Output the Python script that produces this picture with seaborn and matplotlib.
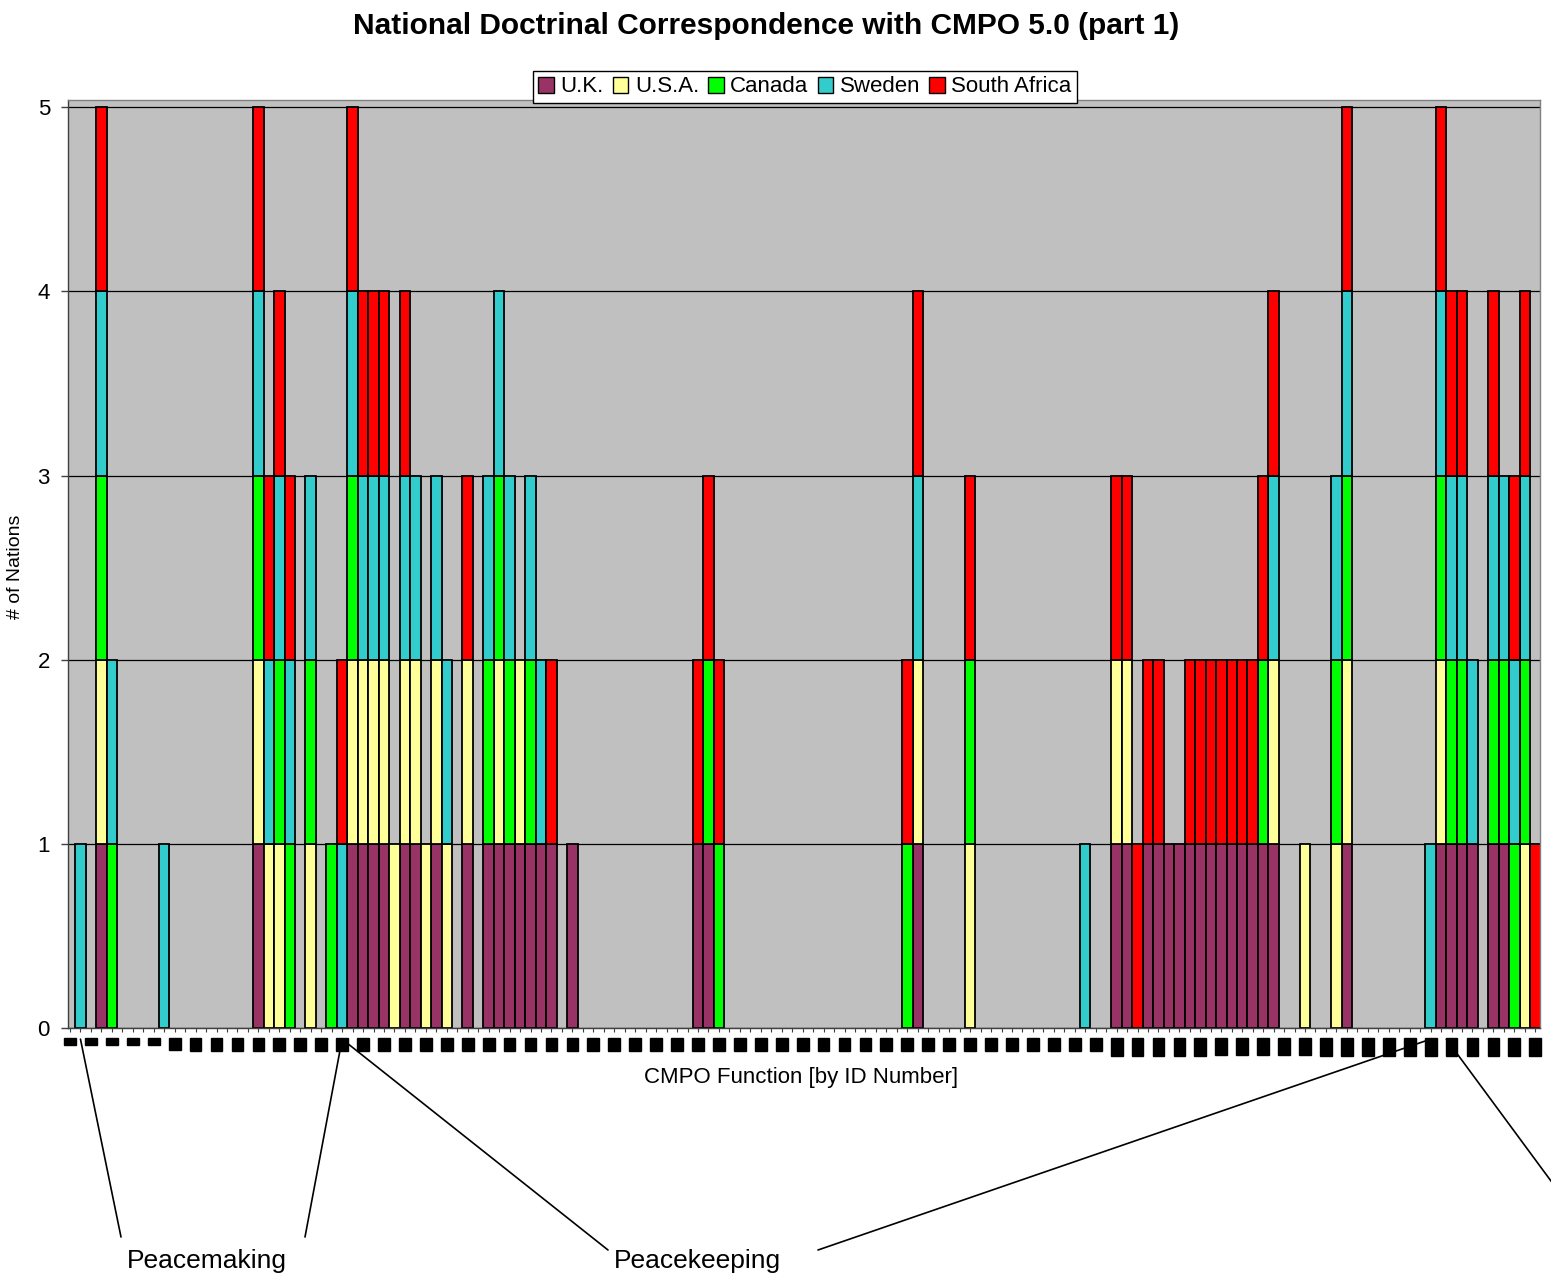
import numpy as np
import seaborn as sns
import matplotlib.pyplot as plt
from matplotlib.patches import Patch

# CMPO function IDs on the x axis
ids = list(range(1, 142))

countries = ['U.K.', 'U.S.A.', 'Canada', 'Sweden', 'South Africa']
colors = ['#993366', '#FFFF99', '#00FF00', '#33CCCC', '#FF0000']

# IDs where each nation's doctrine corresponds to the CMPO function
uk_ids = [4, 19, 28, 29, 30, 31, 33, 34, 36, 39, 41, 42, 43, 44, 45, 46, 47, 49,
          61, 62, 82, 101, 102, 104, 105, 106, 107, 108, 109, 110, 111, 112, 113,
          114, 115, 116, 123, 132, 133, 134, 135, 137, 138]
usa_ids = [4, 19, 20, 21, 24, 28, 29, 30, 31, 32, 33, 34, 35, 36, 37, 39, 42, 44,
           82, 87, 101, 102, 116, 119, 122, 123, 132, 140]
canada_ids = [4, 5, 19, 21, 22, 24, 26, 28, 41, 42, 43, 45, 62, 63, 81, 87, 115,
              122, 123, 132, 133, 134, 137, 138, 139, 140]
sweden_ids = [2, 4, 5, 10, 19, 20, 21, 22, 24, 27, 28, 29, 30, 31, 33, 34, 36, 37,
              41, 42, 43, 45, 46, 82, 98, 116, 122, 123, 131, 132, 133, 134, 135,
              137, 138, 139, 140]
safrica_ids = [4, 19, 20, 21, 22, 27, 28, 29, 30, 31, 33, 39, 47, 61, 62, 63, 81,
               82, 87, 101, 102, 103, 104, 105, 108, 109, 110, 111, 112, 113, 114,
               115, 116, 123, 132, 133, 134, 137, 139, 140, 141]

tick_ids = ids[::2]


def main():
    sns.set_style('white')
    plt.rcParams['font.family'] = ['Liberation Sans', 'DejaVu Sans']
    plt.rcParams['text.color'] = 'black'
    plt.rcParams['axes.labelcolor'] = 'black'
    plt.rcParams['xtick.color'] = 'black'
    plt.rcParams['ytick.color'] = 'black'

    fig = plt.figure(figsize=(15.51, 12.78), dpi=100)
    ax = fig.add_axes([68 / 1551, 1 - 1028 / 1278, 1472 / 1551, 928 / 1278])
    ax.set_facecolor('#C0C0C0')

    bottom = np.zeros(len(ids))
    for hits, col in zip([uk_ids, usa_ids, canada_ids, sweden_ids, safrica_ids], colors):
        vals = np.array([1 if i in hits else 0 for i in ids])
        sns.barplot(x=ids, y=vals, bottom=bottom, color=col, saturation=1,
                    width=1.0, edgecolor='black', linewidth=1.3,
                    errorbar=None, ax=ax)
        bottom = bottom + vals

    # excel draws nothing for zero values
    for p in ax.patches:
        if p.get_height() == 0:
            p.set_visible(False)

    ax.set_xlim(-0.19, 140.45)
    ax.set_ylim(0, 5.04)
    ax.set_yticks(range(0, 6))
    ax.yaxis.grid(True, color='black', lw=0.9)
    ax.set_axisbelow(True)
    ax.set_xlabel('')
    ax.set_ylabel('')

    for s in ax.spines.values():
        s.set_color('#808080')
        s.set_linewidth(1.0)
    ax.spines['left'].set_color('#404040')
    ax.spines['bottom'].set_color('#404040')

    ax.tick_params(axis='y', length=5, width=1, pad=8, labelsize=16,
                   left=True, color='#404040', labelcolor='black')
    ax.set_xticks(range(0, 141, 2))
    ax.set_xticklabels([str(i) for i in tick_ids], rotation=90, fontsize=7,
                       family='Liberation Sans', color='black')
    ax.set_xticks(np.arange(0, 141), minor=True)
    ax.tick_params(axis='x', which='both', length=3, width=0.8, bottom=True,
                   color='#404040')
    ax.tick_params(axis='x', which='major', pad=5)
    for lbl in ax.get_xticklabels():
        lbl.set_bbox(dict(facecolor='black', edgecolor='black', pad=0.6))

    handles = [Patch(facecolor=c, edgecolor='black', label=n)
               for n, c in zip(countries, colors)]
    ax.legend(handles=handles, loc='center', ncol=5, fontsize=16,
              bbox_to_anchor=(805 / 1551, 1 - 87 / 1278),
              bbox_transform=fig.transFigure, frameon=True, fancybox=False,
              edgecolor='black', framealpha=1, handlelength=0.7,
              handleheight=0.7, handletextpad=0.3, columnspacing=0.4,
              borderpad=0.25, borderaxespad=0)

    fig.text(766 / 1551, 1 - 26 / 1278,
             'National Doctrinal Correspondence with CMPO 5.0 (part 1)',
             ha='center', va='center', fontsize=21.5, fontweight='bold')
    fig.text(801 / 1551, 1 - 1077 / 1278, 'CMPO Function [by ID Number]',
             ha='center', va='center', fontsize=16)
    fig.text(15 / 1551, 1 - 567 / 1278, '# of Nations', ha='center',
             va='center', rotation=90, fontsize=14)

    # mission-type brackets below the axis
    lines = [(1, (121, 1237)), (26, (305, 1237)), (26, (608, 1250)),
             (130, (818, 1250)), (131.5, (1565, 1200))]
    for pos, (px, py) in lines:
        ax.annotate('', xy=(pos, -0.012), xycoords=('data', 'axes fraction'),
                    xytext=(px / 1551, 1 - py / 1278),
                    textcoords='figure fraction', annotation_clip=False,
                    arrowprops=dict(arrowstyle='-', color='black', lw=1.2,
                                    shrinkA=0, shrinkB=0))
    fig.text(207 / 1551, 1 - 1261 / 1278, 'Peacemaking', ha='center',
             va='center', fontsize=19)
    fig.text(697 / 1551, 1 - 1261 / 1278, 'Peacekeeping', ha='center',
             va='center', fontsize=19)

    plt.savefig('out.png', dpi=100)


if __name__ == '__main__':
    main()
